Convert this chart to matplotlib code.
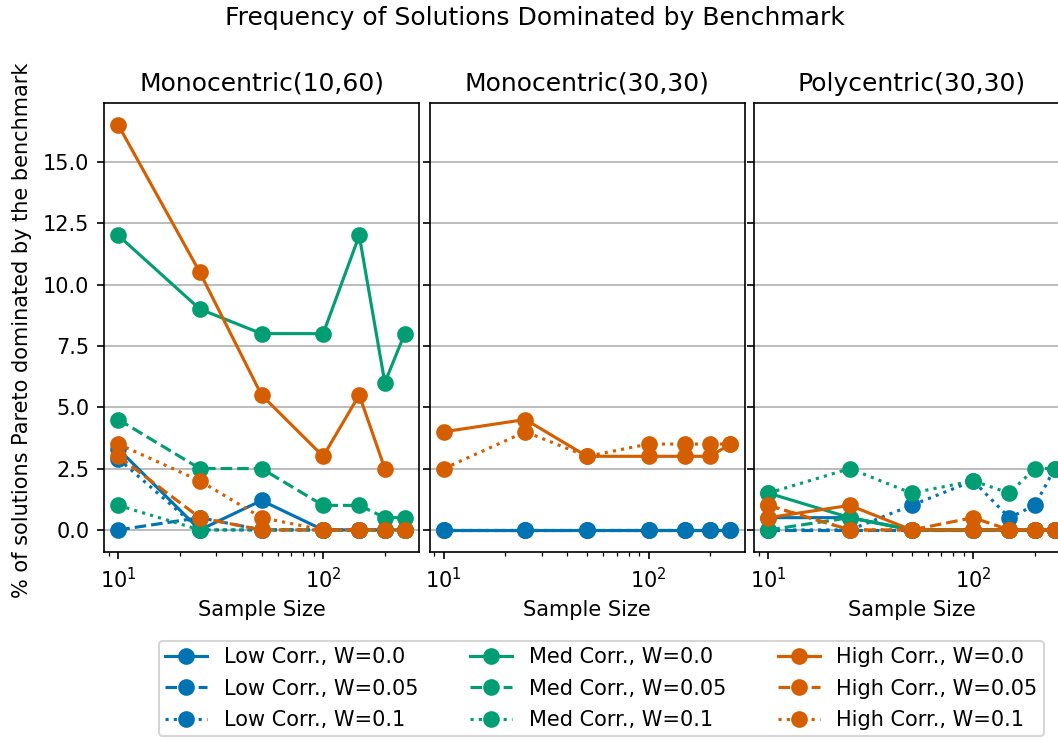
import numpy as np
import matplotlib
matplotlib.use("Agg")
import matplotlib.pyplot as plt

nan = np.nan
sample_sizes = [10, 25, 50, 100, 150, 200, 250]
panel_titles = ["Monocentric(10,60)", "Monocentric(30,30)", "Polycentric(30,30)"]
corr_labels = ["Low Corr.", "Med Corr.", "High Corr."]
weights = ["0.0", "0.05", "0.1"]

# Monocentric(10,60)
p1_low_w0 = [3.3, 0.0, 1.2, 0.0, 0.0, 0.0, 0.0]
p1_low_w005 = [0.0, 0.5, 0.0, 0.0, 0.0, 0.0, 0.0]
p1_low_w01 = [2.9, 0.0, 0.0, 0.0, 0.0, 0.0, 0.0]
p1_med_w0 = [12.0, 9.0, 8.0, 8.0, 12.0, 6.0, 8.0]
p1_med_w005 = [4.5, 2.5, 2.5, 1.0, 1.0, 0.5, 0.5]
p1_med_w01 = [1.0, 0.0, 0.0, 0.0, 0.0, 0.0, 0.0]
p1_high_w0 = [16.5, 10.5, 5.5, 3.0, 5.5, 2.5, nan]
p1_high_w005 = [3.0, 0.5, 0.0, 0.0, 0.0, 0.0, 0.0]
p1_high_w01 = [3.5, 2.0, 0.5, 0.0, 0.0, 0.0, 0.0]

# Monocentric(30,30)
p2_low_w0 = [0.0, 0.0, 0.0, 0.0, 0.0, 0.0, 0.0]
p2_low_w005 = [0.0, 0.0, 0.0, 0.0, 0.0, 0.0, 0.0]
p2_low_w01 = [0.0, 0.0, 0.0, 0.0, 0.0, 0.0, 0.0]
p2_med_w0 = [nan] * 7
p2_med_w005 = [nan] * 7
p2_med_w01 = [nan] * 7
p2_high_w0 = [4.0, 4.5, 3.0, 3.0, 3.0, 3.0, 3.5]
p2_high_w005 = [nan] * 7
p2_high_w01 = [2.5, 4.0, 3.0, 3.5, 3.5, 3.5, 3.5]

# Polycentric(30,30)
p3_low_w0 = [0.5, 0.5, 0.0, 0.0, 0.0, 0.0, 0.0]
p3_low_w005 = [0.0, 0.0, 0.0, 0.0, 0.0, 0.0, 0.0]
p3_low_w01 = [0.0, 0.0, 1.0, 2.0, 0.5, 1.0, 2.5]
p3_med_w0 = [1.5, 0.5, 0.0, 0.0, 0.0, 0.0, 0.0]
p3_med_w005 = [0.0, 0.5, 0.0, 0.0, 0.0, 0.0, 0.0]
p3_med_w01 = [1.5, 2.5, 1.5, 2.0, 1.5, 2.5, 2.5]
p3_high_w0 = [0.5, 1.0, 0.0, 0.0, 0.0, 0.0, 0.0]
p3_high_w005 = [1.0, 0.0, 0.0, 0.5, 0.0, 0.0, 0.0]
p3_high_w01 = [1.0, 0.0, 0.0, 0.0, 0.0, 0.0, 0.0]

panels = [
    [[p1_low_w0, p1_low_w005, p1_low_w01],
     [p1_med_w0, p1_med_w005, p1_med_w01],
     [p1_high_w0, p1_high_w005, p1_high_w01]],
    [[p2_low_w0, p2_low_w005, p2_low_w01],
     [p2_med_w0, p2_med_w005, p2_med_w01],
     [p2_high_w0, p2_high_w005, p2_high_w01]],
    [[p3_low_w0, p3_low_w005, p3_low_w01],
     [p3_med_w0, p3_med_w005, p3_med_w01],
     [p3_high_w0, p3_high_w005, p3_high_w01]],
]

colors = ["#0173b2", "#029e73", "#d55e00"]
linestyles = ["-", "--", ":"]

W, H = 1058, 740
fig = plt.figure(figsize=(W / 150, H / 150), dpi=150)

lefts = [104, 429.5, 754]
ax_w = 315
top, bottom = 103, 552
axes = []
for i, lp in enumerate(lefts):
    kw = {}
    if axes:
        kw["sharey"] = axes[0]
    ax = fig.add_axes([lp / W, 1 - bottom / H, ax_w / W, (bottom - top) / H], **kw)
    axes.append(ax)

handles = []
for i, ax in enumerate(axes):
    for c in range(3):
        for w in range(3):
            ln, = ax.plot(sample_sizes, panels[i][c][w], color=colors[c],
                          linestyle=linestyles[w], marker="o", markersize=7,
                          label=f"{corr_labels[c]}, W={weights[w]}")
            if i == 0:
                handles.append(ln)
    ax.set_xscale("log")
    ax.set_title(panel_titles[i], fontsize=12)
    ax.set_xlabel("Sample Size")
    ax.yaxis.grid(True)
    ax.set_axisbelow(True)
    if i > 0:
        ax.tick_params(labelleft=False)

axes[0].set_yticks([0, 2.5, 5.0, 7.5, 10.0, 12.5, 15.0])
axes[0].set_ylim(-0.9, 17.4)

fig.text(22 / W, 1 - 330 / H, "% of solutions Pareto dominated by the benchmark",
         rotation=90, ha="center", va="center", fontsize=10)
fig.suptitle("Frequency of Solutions Dominated by Benchmark", x=535 / W,
             y=1 - 18 / H, va="center", fontsize=12)

fig.legend(handles=handles, loc="upper center", bbox_to_anchor=(601.5 / W, 1 - 641 / H),
           ncol=3, fontsize=10, columnspacing=2.5, labelspacing=0.55, borderpad=0.3,
           borderaxespad=0)

fig.savefig("out.png", dpi=150)
